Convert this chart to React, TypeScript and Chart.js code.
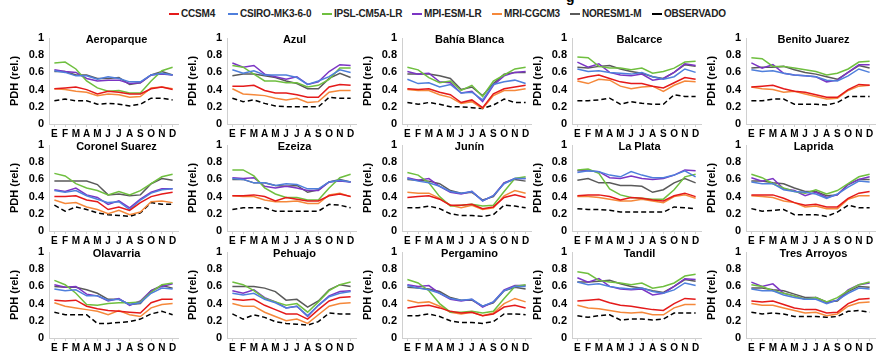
import React, { useEffect, useRef } from "react";
import { Chart, registerables } from "chart.js";
Chart.register(...registerables);

const months = ["E", "F", "M", "A", "M", "J", "J", "A", "S", "O", "N", "D"];
const models = ["CCSM4", "CSIRO-MK3-6-0", "IPSL-CM5A-LR", "MPI-ESM-LR", "MRI-CGCM3", "NORESM1-M", "OBSERVADO"];
const modelColors = ["#e41a1a", "#4f7fdc", "#6fbf3f", "#7b35c4", "#f5883a", "#5a5a5a", "#000000"];
const yTicks = [0, 0.2, 0.4, 0.6, 0.8, 1];
const stationNames = [
  "Aeroparque", "Azul", "Bahía Blanca", "Balcarce", "Benito Juarez",
  "Coronel Suarez", "Ezeiza", "Junín", "La Plata", "Laprida",
  "Olavarria", "Pehuajo", "Pergamino", "Tandil", "Tres Arroyos",
];

// each station: [CCSM4, CSIRO-MK3-6-0, IPSL-CM5A-LR, MPI-ESM-LR, MRI-CGCM3, NORESM1-M, OBSERVADO]
const aeroparque = [
  [0.41, 0.42, 0.43, 0.40, 0.35, 0.38, 0.37, 0.35, 0.35, 0.41, 0.43, 0.40],
  [0.62, 0.60, 0.56, 0.56, 0.52, 0.55, 0.53, 0.49, 0.49, 0.57, 0.59, 0.57],
  [0.71, 0.72, 0.64, 0.50, 0.42, 0.38, 0.39, 0.36, 0.36, 0.50, 0.62, 0.66],
  [0.63, 0.61, 0.60, 0.53, 0.50, 0.51, 0.51, 0.47, 0.48, 0.57, 0.58, 0.57],
  [0.41, 0.40, 0.38, 0.37, 0.33, 0.35, 0.34, 0.31, 0.32, 0.42, 0.43, 0.41],
  [0.61, 0.61, 0.57, 0.57, 0.53, 0.53, 0.54, 0.46, 0.48, 0.57, 0.61, 0.57],
  [0.27, 0.29, 0.27, 0.27, 0.23, 0.24, 0.23, 0.21, 0.23, 0.30, 0.30, 0.28],
];
const azul = [
  [0.44, 0.44, 0.45, 0.39, 0.36, 0.36, 0.34, 0.31, 0.31, 0.43, 0.46, 0.45],
  [0.63, 0.59, 0.62, 0.57, 0.57, 0.57, 0.54, 0.46, 0.50, 0.55, 0.63, 0.60],
  [0.68, 0.66, 0.58, 0.50, 0.50, 0.48, 0.48, 0.43, 0.45, 0.52, 0.65, 0.65],
  [0.71, 0.66, 0.68, 0.58, 0.55, 0.52, 0.55, 0.46, 0.49, 0.61, 0.69, 0.68],
  [0.41, 0.35, 0.34, 0.33, 0.30, 0.28, 0.30, 0.25, 0.26, 0.37, 0.39, 0.39],
  [0.56, 0.58, 0.58, 0.56, 0.54, 0.50, 0.47, 0.41, 0.41, 0.53, 0.59, 0.54],
  [0.30, 0.26, 0.28, 0.24, 0.21, 0.20, 0.20, 0.20, 0.20, 0.31, 0.30, 0.30],
];
const bahiaBlanca = [
  [0.41, 0.40, 0.41, 0.37, 0.34, 0.25, 0.28, 0.19, 0.35, 0.41, 0.43, 0.45],
  [0.52, 0.47, 0.48, 0.43, 0.46, 0.36, 0.37, 0.28, 0.46, 0.49, 0.51, 0.47],
  [0.66, 0.63, 0.54, 0.48, 0.50, 0.39, 0.45, 0.32, 0.50, 0.57, 0.64, 0.66],
  [0.61, 0.58, 0.59, 0.49, 0.48, 0.36, 0.38, 0.26, 0.45, 0.56, 0.60, 0.61],
  [0.40, 0.39, 0.39, 0.34, 0.31, 0.24, 0.26, 0.18, 0.33, 0.39, 0.39, 0.41],
  [0.58, 0.58, 0.58, 0.56, 0.53, 0.40, 0.43, 0.33, 0.47, 0.58, 0.60, 0.60],
  [0.25, 0.23, 0.25, 0.23, 0.20, 0.20, 0.19, 0.18, 0.22, 0.29, 0.25, 0.25],
];
const balcarce = [
  [0.52, 0.55, 0.57, 0.53, 0.49, 0.47, 0.47, 0.44, 0.42, 0.48, 0.54, 0.52],
  [0.64, 0.61, 0.62, 0.60, 0.59, 0.58, 0.60, 0.55, 0.52, 0.55, 0.64, 0.60],
  [0.78, 0.77, 0.67, 0.65, 0.65, 0.63, 0.65, 0.59, 0.61, 0.65, 0.72, 0.73],
  [0.72, 0.66, 0.70, 0.60, 0.57, 0.56, 0.58, 0.51, 0.53, 0.60, 0.70, 0.68],
  [0.50, 0.47, 0.52, 0.51, 0.44, 0.41, 0.43, 0.44, 0.38, 0.45, 0.50, 0.49],
  [0.66, 0.65, 0.67, 0.68, 0.64, 0.61, 0.59, 0.55, 0.53, 0.60, 0.69, 0.67],
  [0.27, 0.27, 0.28, 0.30, 0.23, 0.26, 0.24, 0.23, 0.23, 0.34, 0.32, 0.32],
];
const benitoJuarez = [
  [0.43, 0.44, 0.45, 0.41, 0.38, 0.37, 0.34, 0.31, 0.31, 0.40, 0.46, 0.45],
  [0.63, 0.61, 0.62, 0.59, 0.57, 0.56, 0.55, 0.51, 0.50, 0.56, 0.64, 0.60],
  [0.77, 0.76, 0.67, 0.67, 0.65, 0.63, 0.61, 0.57, 0.59, 0.64, 0.72, 0.73],
  [0.71, 0.65, 0.69, 0.59, 0.57, 0.56, 0.55, 0.49, 0.51, 0.60, 0.69, 0.69],
  [0.43, 0.41, 0.40, 0.37, 0.38, 0.35, 0.32, 0.29, 0.30, 0.39, 0.44, 0.45],
  [0.65, 0.66, 0.66, 0.67, 0.63, 0.60, 0.58, 0.55, 0.52, 0.60, 0.68, 0.65],
  [0.27, 0.27, 0.29, 0.29, 0.23, 0.23, 0.23, 0.22, 0.25, 0.32, 0.32, 0.32],
];
const coronelSuarez = [
  [0.40, 0.40, 0.41, 0.36, 0.34, 0.25, 0.28, 0.24, 0.33, 0.40, 0.43, 0.45],
  [0.47, 0.45, 0.47, 0.41, 0.37, 0.33, 0.34, 0.25, 0.36, 0.44, 0.48, 0.49],
  [0.67, 0.64, 0.55, 0.50, 0.47, 0.42, 0.46, 0.42, 0.47, 0.55, 0.63, 0.66],
  [0.48, 0.46, 0.50, 0.42, 0.39, 0.31, 0.35, 0.27, 0.37, 0.45, 0.49, 0.49],
  [0.36, 0.32, 0.33, 0.28, 0.25, 0.20, 0.24, 0.19, 0.22, 0.34, 0.35, 0.33],
  [0.58, 0.58, 0.58, 0.58, 0.54, 0.42, 0.43, 0.41, 0.42, 0.55, 0.61, 0.59],
  [0.30, 0.23, 0.28, 0.25, 0.21, 0.19, 0.18, 0.17, 0.21, 0.33, 0.31, 0.31],
];
const ezeiza = [
  [0.41, 0.41, 0.42, 0.40, 0.35, 0.39, 0.37, 0.35, 0.35, 0.41, 0.43, 0.40],
  [0.61, 0.60, 0.56, 0.56, 0.53, 0.55, 0.54, 0.49, 0.49, 0.57, 0.59, 0.57],
  [0.71, 0.71, 0.64, 0.50, 0.43, 0.39, 0.39, 0.36, 0.36, 0.50, 0.62, 0.66],
  [0.62, 0.61, 0.62, 0.52, 0.50, 0.52, 0.50, 0.47, 0.47, 0.57, 0.58, 0.57],
  [0.41, 0.40, 0.40, 0.36, 0.34, 0.34, 0.35, 0.32, 0.32, 0.42, 0.44, 0.40],
  [0.60, 0.60, 0.56, 0.56, 0.53, 0.52, 0.53, 0.45, 0.48, 0.57, 0.60, 0.57],
  [0.25, 0.27, 0.27, 0.27, 0.23, 0.23, 0.23, 0.23, 0.23, 0.31, 0.30, 0.27],
];
const junin = [
  [0.39, 0.40, 0.41, 0.37, 0.30, 0.30, 0.31, 0.26, 0.28, 0.39, 0.42, 0.39],
  [0.61, 0.58, 0.56, 0.52, 0.46, 0.44, 0.46, 0.35, 0.41, 0.55, 0.61, 0.61],
  [0.68, 0.65, 0.56, 0.40, 0.29, 0.30, 0.31, 0.29, 0.30, 0.46, 0.61, 0.63],
  [0.62, 0.59, 0.61, 0.52, 0.45, 0.43, 0.46, 0.35, 0.41, 0.56, 0.61, 0.61],
  [0.45, 0.44, 0.44, 0.38, 0.30, 0.27, 0.30, 0.25, 0.27, 0.41, 0.47, 0.44],
  [0.60, 0.59, 0.58, 0.55, 0.47, 0.44, 0.45, 0.36, 0.40, 0.56, 0.60, 0.58],
  [0.27, 0.27, 0.29, 0.26, 0.20, 0.18, 0.18, 0.17, 0.19, 0.30, 0.29, 0.27],
];
const laPlata = [
  [0.41, 0.42, 0.42, 0.40, 0.36, 0.39, 0.38, 0.36, 0.35, 0.41, 0.44, 0.40],
  [0.68, 0.70, 0.69, 0.65, 0.63, 0.69, 0.65, 0.62, 0.62, 0.65, 0.70, 0.63],
  [0.71, 0.72, 0.67, 0.49, 0.42, 0.39, 0.38, 0.37, 0.37, 0.48, 0.63, 0.66],
  [0.70, 0.70, 0.69, 0.62, 0.61, 0.64, 0.61, 0.60, 0.61, 0.65, 0.71, 0.70],
  [0.40, 0.40, 0.39, 0.37, 0.35, 0.35, 0.37, 0.35, 0.33, 0.40, 0.42, 0.38],
  [0.59, 0.61, 0.56, 0.56, 0.53, 0.53, 0.52, 0.45, 0.48, 0.56, 0.61, 0.56],
  [0.26, 0.25, 0.25, 0.24, 0.22, 0.22, 0.22, 0.22, 0.22, 0.28, 0.27, 0.26],
];
const laprida = [
  [0.42, 0.42, 0.42, 0.38, 0.33, 0.30, 0.31, 0.28, 0.28, 0.38, 0.44, 0.46],
  [0.57, 0.55, 0.55, 0.48, 0.46, 0.45, 0.43, 0.38, 0.43, 0.51, 0.58, 0.57],
  [0.66, 0.62, 0.55, 0.50, 0.46, 0.44, 0.48, 0.43, 0.47, 0.55, 0.63, 0.66],
  [0.62, 0.58, 0.61, 0.49, 0.47, 0.41, 0.45, 0.39, 0.42, 0.54, 0.60, 0.63],
  [0.41, 0.40, 0.39, 0.35, 0.33, 0.28, 0.29, 0.26, 0.26, 0.37, 0.41, 0.41],
  [0.58, 0.58, 0.56, 0.55, 0.50, 0.46, 0.46, 0.41, 0.42, 0.54, 0.60, 0.60],
  [0.26, 0.23, 0.24, 0.25, 0.19, 0.19, 0.19, 0.17, 0.22, 0.30, 0.27, 0.27],
];
const olavarria = [
  [0.44, 0.43, 0.44, 0.37, 0.34, 0.32, 0.31, 0.30, 0.29, 0.41, 0.45, 0.45],
  [0.57, 0.55, 0.56, 0.49, 0.49, 0.44, 0.45, 0.39, 0.41, 0.52, 0.58, 0.57],
  [0.67, 0.62, 0.52, 0.39, 0.38, 0.40, 0.41, 0.41, 0.42, 0.53, 0.62, 0.64],
  [0.62, 0.59, 0.60, 0.51, 0.49, 0.43, 0.46, 0.38, 0.43, 0.55, 0.60, 0.63],
  [0.41, 0.37, 0.35, 0.33, 0.31, 0.27, 0.32, 0.27, 0.25, 0.35, 0.39, 0.40],
  [0.60, 0.59, 0.59, 0.56, 0.52, 0.45, 0.45, 0.39, 0.40, 0.55, 0.61, 0.58],
  [0.30, 0.27, 0.27, 0.27, 0.17, 0.17, 0.18, 0.19, 0.22, 0.28, 0.31, 0.27],
];
const pehuajo = [
  [0.45, 0.44, 0.45, 0.38, 0.33, 0.28, 0.28, 0.22, 0.33, 0.43, 0.47, 0.48],
  [0.52, 0.50, 0.52, 0.45, 0.41, 0.35, 0.37, 0.26, 0.38, 0.48, 0.52, 0.54],
  [0.65, 0.62, 0.55, 0.46, 0.42, 0.38, 0.40, 0.30, 0.42, 0.55, 0.62, 0.65],
  [0.55, 0.52, 0.56, 0.47, 0.42, 0.35, 0.37, 0.25, 0.38, 0.49, 0.54, 0.55],
  [0.40, 0.37, 0.37, 0.30, 0.25, 0.20, 0.22, 0.17, 0.27, 0.37, 0.40, 0.41],
  [0.60, 0.60, 0.60, 0.58, 0.54, 0.44, 0.45, 0.36, 0.43, 0.56, 0.62, 0.60],
  [0.28, 0.22, 0.27, 0.24, 0.19, 0.17, 0.16, 0.15, 0.19, 0.29, 0.28, 0.28],
];
const pergamino = [
  [0.35, 0.37, 0.38, 0.35, 0.31, 0.29, 0.30, 0.26, 0.28, 0.36, 0.38, 0.35],
  [0.61, 0.58, 0.56, 0.52, 0.46, 0.44, 0.45, 0.37, 0.42, 0.55, 0.60, 0.60],
  [0.68, 0.64, 0.55, 0.40, 0.30, 0.30, 0.31, 0.29, 0.31, 0.46, 0.60, 0.62],
  [0.62, 0.60, 0.61, 0.52, 0.45, 0.43, 0.45, 0.36, 0.42, 0.56, 0.61, 0.61],
  [0.44, 0.41, 0.42, 0.37, 0.30, 0.28, 0.30, 0.26, 0.29, 0.40, 0.46, 0.42],
  [0.59, 0.58, 0.57, 0.54, 0.47, 0.44, 0.44, 0.37, 0.41, 0.55, 0.59, 0.57],
  [0.26, 0.26, 0.28, 0.25, 0.20, 0.18, 0.18, 0.17, 0.19, 0.28, 0.28, 0.27],
];
const tandil = [
  [0.43, 0.44, 0.45, 0.41, 0.38, 0.37, 0.35, 0.33, 0.32, 0.40, 0.46, 0.45],
  [0.65, 0.62, 0.63, 0.60, 0.58, 0.57, 0.58, 0.54, 0.52, 0.56, 0.64, 0.61],
  [0.77, 0.75, 0.67, 0.65, 0.64, 0.62, 0.64, 0.58, 0.60, 0.64, 0.72, 0.74],
  [0.70, 0.65, 0.69, 0.60, 0.57, 0.56, 0.57, 0.50, 0.52, 0.60, 0.69, 0.68],
  [0.38, 0.35, 0.34, 0.32, 0.30, 0.29, 0.30, 0.27, 0.27, 0.35, 0.39, 0.39],
  [0.65, 0.65, 0.66, 0.67, 0.63, 0.60, 0.58, 0.55, 0.53, 0.60, 0.68, 0.66],
  [0.26, 0.24, 0.26, 0.27, 0.21, 0.22, 0.22, 0.21, 0.22, 0.29, 0.29, 0.29],
];
const tresArroyos = [
  [0.43, 0.42, 0.43, 0.39, 0.35, 0.33, 0.33, 0.29, 0.30, 0.40, 0.45, 0.46],
  [0.57, 0.55, 0.55, 0.50, 0.47, 0.45, 0.45, 0.40, 0.44, 0.52, 0.58, 0.57],
  [0.62, 0.60, 0.55, 0.52, 0.49, 0.45, 0.47, 0.42, 0.47, 0.55, 0.62, 0.65],
  [0.65, 0.60, 0.63, 0.52, 0.49, 0.45, 0.47, 0.41, 0.44, 0.56, 0.62, 0.64],
  [0.40, 0.38, 0.38, 0.35, 0.32, 0.29, 0.30, 0.26, 0.28, 0.37, 0.41, 0.42],
  [0.58, 0.58, 0.56, 0.55, 0.51, 0.47, 0.47, 0.42, 0.43, 0.54, 0.60, 0.59],
  [0.30, 0.28, 0.29, 0.28, 0.25, 0.25, 0.25, 0.24, 0.25, 0.31, 0.32, 0.30],
];

const stationData = [
  aeroparque, azul, bahiaBlanca, balcarce, benitoJuarez,
  coronelSuarez, ezeiza, junin, laPlata, laprida,
  olavarria, pehuajo, pergamino, tandil, tresArroyos,
];

const FONT = '"Liberation Sans", Arial, sans-serif';
const colLefts = [49, 227, 402, 572, 746];
const rowTops = [38, 145, 252];
const Y_W = 44;
const PLOT_W = 129;
const PLOT_H = 86;
const PAD_TOP = 12;
const X_H = 18;
const CW = Y_W + PLOT_W + 2;
const CH = PAD_TOP + PLOT_H + X_H;

function Panel({ name, values, left, top }: { name: string; values: number[][]; left: number; top: number }) {
  const ref = useRef<HTMLCanvasElement | null>(null);
  useEffect(() => {
    if (!ref.current) return;
    const titlePlugin = {
      id: "panelTitle",
      afterDatasetsDraw(chart: any) {
        const { ctx, chartArea } = chart;
        ctx.save();
        ctx.font = `bold 11px ${FONT}`;
        ctx.fillStyle = "#000";
        ctx.textAlign = "center";
        ctx.textBaseline = "middle";
        ctx.fillText(name, (chartArea.left + chartArea.right) / 2 + 3, chartArea.top + 2);
        ctx.restore();
      },
    };
    const chart = new Chart(ref.current, {
      type: "line",
      data: {
        labels: months,
        datasets: models.map((m, i) => ({
          label: m,
          data: values[i],
          borderColor: modelColors[i],
          backgroundColor: modelColors[i],
          borderWidth: 1.5,
          borderDash: i === 6 ? [5, 3] : [],
          pointRadius: 0,
          tension: 0,
          fill: false,
        })),
      },
      options: {
        animation: false,
        responsive: false,
        devicePixelRatio: 1,
        layout: { padding: { top: PAD_TOP, right: 2, left: 0, bottom: 0 } },
        plugins: { legend: { display: false }, tooltip: { enabled: false }, title: { display: false } },
        scales: {
          x: {
            offset: true,
            grid: { display: true, drawOnChartArea: false, drawTicks: true, tickLength: 3, color: "#d0d0d0" },
            border: { display: true, color: "#d0d0d0" },
            ticks: { font: { family: FONT, size: 10, weight: "bold" }, color: "#000", padding: 1, maxRotation: 0, autoSkip: false },
            afterFit: (s: any) => { s.height = X_H; },
          },
          y: {
            min: 0,
            max: 1,
            afterBuildTicks: (s: any) => { s.ticks = yTicks.map((v) => ({ value: v })); },
            grid: { display: true, drawOnChartArea: false, drawTicks: false },
            border: { display: true, color: "#d0d0d0" },
            ticks: {
              font: { family: FONT, size: 11, weight: "bold" },
              color: "#000",
              padding: 5,
              callback: (v: any) => String(Number(Number(v).toFixed(1))),
            },
            title: { display: true, text: "PDH (rel.)", font: { family: FONT, size: 11, weight: "bold" }, color: "#000", padding: { top: 3, bottom: 0 } },
            afterFit: (s: any) => { s.width = Y_W; },
          },
        },
      },
      plugins: [titlePlugin],
    } as any);
    return () => chart.destroy();
  }, [name, values]);
  return (
    <div style={{ position: "absolute", left, top, width: CW, height: CH }}>
      <canvas ref={ref} width={CW} height={CH} style={{ width: CW, height: CH, display: "block" }} />
    </div>
  );
}

const legendXs = [169, 228, 322, 412, 492, 570, 652];

export default function App() {
  return (
    <div style={{ position: "fixed", left: 0, top: 0, width: 877, height: 352, overflow: "hidden", background: "#fff" }}>
      <span style={{ position: "absolute", left: 566, top: -10, fontFamily: FONT, fontWeight: "bold", fontSize: 14, lineHeight: "14px" }}>g</span>
      {models.map((m, i) => (
        <div key={m} style={{ position: "absolute", left: legendXs[i], top: 8, height: 12, display: "flex", alignItems: "center", whiteSpace: "nowrap" }}>
          {i === 6 ? (
            <span style={{ width: 10, height: 0, borderTop: "2px dashed #000", display: "inline-block", marginRight: 2 }} />
          ) : (
            <span style={{ width: 10, height: 2, background: modelColors[i], display: "inline-block", marginRight: 2 }} />
          )}
          <span style={{ fontFamily: '"Liberation Sans Narrow", "Liberation Sans", Arial, sans-serif', fontWeight: "bold", fontSize: 10, color: "#222", lineHeight: "12px", letterSpacing: -0.2 }}>{m}</span>
        </div>
      ))}
      {stationNames.map((n, k) => (
        <Panel
          key={n}
          name={n}
          values={stationData[k]}
          left={colLefts[k % 5] - Y_W}
          top={rowTops[Math.floor(k / 5)] - PAD_TOP}
        />
      ))}
    </div>
  );
}
